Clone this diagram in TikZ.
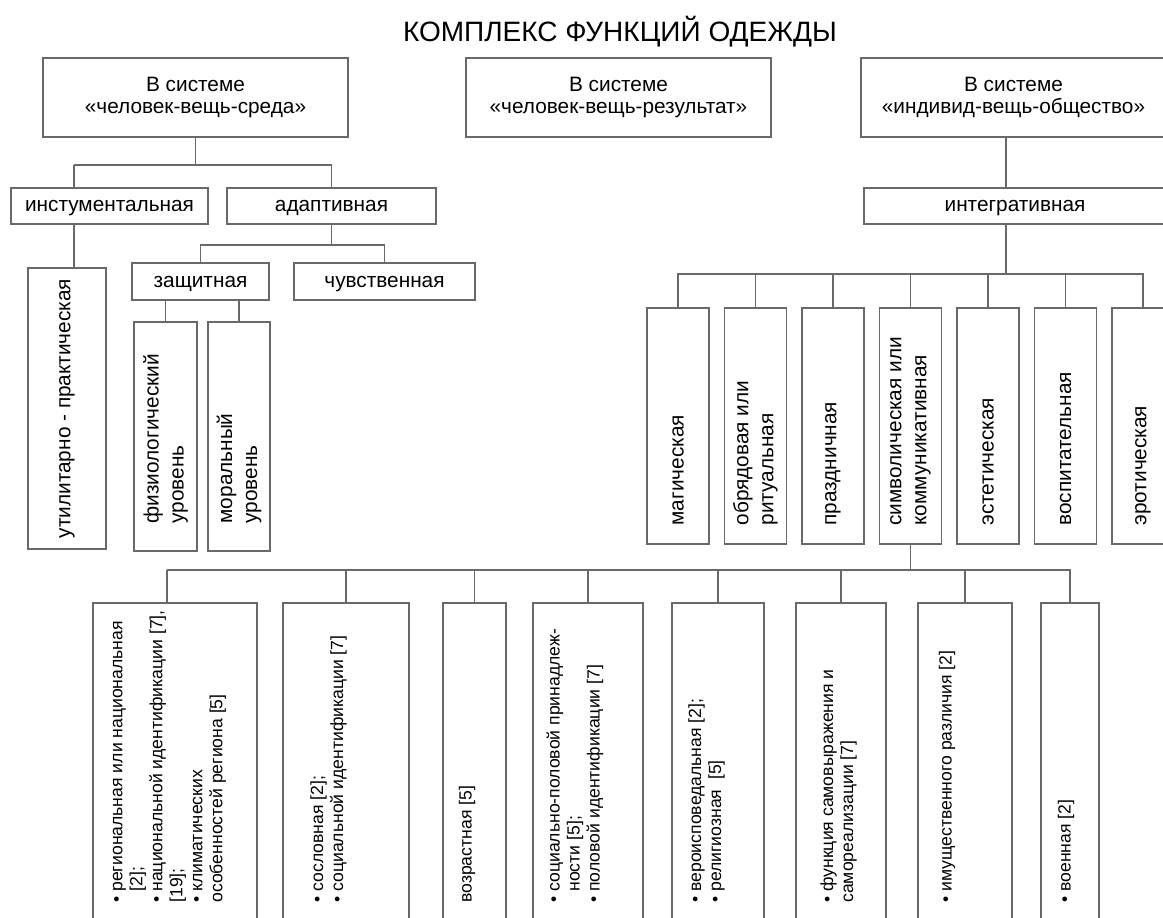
\documentclass[tikz,border=0pt]{standalone}
\usepackage{fontspec}
\setmainfont{Liberation Sans}
\definecolor{linegray}{RGB}{105,105,105}

\begin{document}
\begin{tikzpicture}[x=0.5pt,y=-0.5pt,
 box/.style={draw=linegray,line width=0.8pt,inner sep=0pt,align=center,font=\fontsize{10.4}{11}\selectfont},
 lbox/.style={box,text height=7.6pt,text depth=2pt},
 vtext/.style={rotate=90,inner sep=0pt,align=left,font=\fontsize{10.4}{12.5}\selectfont},
 stext/.style={rotate=90,anchor=west,inner sep=0pt,align=left,font=\fontsize{8.8}{10}\selectfont},
 wire/.style={draw=linegray,line width=0.8pt}]
 \useasboundingbox (0,0) rectangle (1163,917); % 画面の枠
 \clip (0,0) rectangle (1163,917);

 \node (title) at (620,41) [anchor=base,font=\fontsize{14}{16}\selectfont] {КОМПЛЕКС ФУНКЦИЙ ОДЕЖДЫ}; % 表題

 \node (b1) at (195.5,97.5) [box,minimum width=152.5pt,minimum height=39.5pt] {В системе\\«человек-вещь-среда»}; % 上段 左
 \node (b2) at (618.5,97.5) [box,minimum width=152.5pt,minimum height=39.5pt] {В системе\\«человек-вещь-результат»}; % 上段 中
 \node (b3) at (1013.5,97.5) [box,minimum width=152.5pt,minimum height=39.5pt] {В системе\\«индивид-вещь-общество»}; % 上段 右

 \node (instr) at (109.5,206) [lbox,minimum width=98.5pt,minimum height=18pt] {инстументальная};
 \node (adapt) at (331.5,206) [lbox,minimum width=104.5pt,minimum height=18pt] {адаптивная};
 \node (integ) at (1015,206) [lbox,minimum width=151pt,minimum height=18pt] {интегративная};
 \node (zasch) at (200.5,281.5) [lbox,minimum width=68.5pt,minimum height=18.5pt] {защитная};
 \node (chuv) at (384.5,281.5) [lbox,minimum width=90.5pt,minimum height=18.5pt] {чувственная};

 \node (util) at (67,408.5) [box,minimum width=39pt,minimum height=140.5pt] {}; % 縦長の箱
 \node (utilt) at (util.center) [vtext] {утилитарно - практическая};
 \node (fiz) at (165.5,436.5) [box,minimum width=31.5pt,minimum height=114.5pt] {};
 \node (fizt) at ([yshift=14pt]fiz.south) [vtext,anchor=west] {физиологический\\уровень};
 \node (moral) at (239,436.5) [box,minimum width=31pt,minimum height=114.5pt] {};
 \node (moralt) at ([yshift=14pt]moral.south) [vtext,anchor=west] {моральный\\уровень};

 \foreach \i/\t in {1/магическая,2/{обрядовая или\\ритуальная},3/праздничная,4/{символическая или\\коммуникативная},5/эстетическая,6/воспитательная,7/эротическая}
 {
  \node (f\i) at ({678+77.5*(\i-1)},426) [box,minimum width=31pt,minimum height=118pt] {};
  \node (ft\i) at ([yshift=9.5pt]f\i.south) [vtext,anchor=west] {\t};
 }

 \node (sA) at (175,769) [box,minimum width=82pt,minimum height=166pt] {}; % 下段の箱
 \node (sB) at (346,769) [box,minimum width=63pt,minimum height=166pt] {};
 \node (sC) at (474.5,769) [box,minimum width=31.5pt,minimum height=166pt] {};
 \node (sD) at (588,769) [box,minimum width=55pt,minimum height=166pt] {};
 \node (sE) at (718,769) [box,minimum width=46pt,minimum height=166pt] {};
 \node (sF) at (841,769) [box,minimum width=45pt,minimum height=166pt] {};
 \node (sG) at (965,769) [box,minimum width=47pt,minimum height=166pt] {};
 \node (sH) at (1070,769) [box,minimum width=29pt,minimum height=166pt] {};

 \node (sAt) at (169.5,903) [stext] {• региональная или национальная\\\hphantom{• }{[}2];\\• национальной идентификации [7],\\{[}19];\\• климатических\\особенностей региона [5]};
 \node (sBt) at (328.5,903) [stext] {• сословная [2];\\• социальной идентификации [7]};
 \node (sCt) at (467,903) [stext] {возрастная [5]};
 \node (sDt) at (575,903) [stext] {• социально-половой принадлеж-\\\hphantom{• }ности [5];\\• половой идентификации [7]};
 \node (sEt) at (706.5,903) [stext] {• вероисповедальная [2];\\• религиозная~~[5]};
 \node (sFt) at (838.5,903) [stext] {• функция самовыражения и\\самореализации [7]};
 \node (sGt) at (947,903) [stext] {• имущественного различия [2]};
 \node (sHt) at (1066,903) [stext] {• военная [2]};

 \coordinate (r1) at (74,165); % 分岐の高さ
 \coordinate (r2) at (0,245);
 \coordinate (r3) at (0,274);
 \coordinate (r4) at (167,570);
 \coordinate (v3) at (1006,0);

 \draw [wire] (b1.south) -- (b1.south |- r1);
 \draw [wire] (r1) -| (adapt.north);
 \draw [wire] (r1) -- (r1 |- instr.north);
 \draw [wire] (instr.south -| r1) -- (r1 |- util.north);
 \draw [wire] (adapt.south) -- (adapt.south |- r2);
 \draw [wire] (zasch.north) |- (adapt.south |- r2) -| (chuv.north);
 \draw [wire] (zasch.south -| fiz.north) -- (fiz.north);
 \draw [wire] (zasch.south -| moral.north) -- (moral.north);

 \draw [wire] (b3.south -| v3) -- (integ.north -| v3);
 \draw [wire] (integ.south -| v3) -- (v3 |- r3);
 \draw [wire] (f1.north) |- (f7.north |- r3) -- (f7.north);
 \foreach \i in {2,...,6} \draw [wire] (f\i.north) -- (f\i.north |- r3);

 \draw [wire] (f4.south) -- (f4.south |- r4);
 \draw [wire] (r4) -- (r4 |- sA.north);
 \draw [wire] (r4) -| (sH.north);
 \foreach \n in {sB,sC,sD,sE,sF,sG} \draw [wire] (\n.north) -- (\n.north |- r4);
\end{tikzpicture}
\end{document}
